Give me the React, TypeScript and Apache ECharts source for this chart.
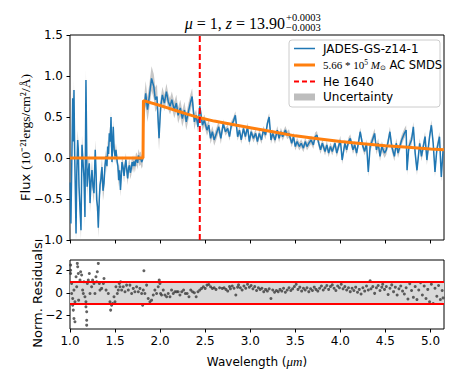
import React, { useEffect, useRef } from "react";
import * as echarts from "echarts";

// Observed spectrum: [wavelength (µm), flux (1e-21 ergs/cm^2/Å)]
const SPECTRUM: [number, number][] = [
  [1.003, -0.3], [1.01, -0.8], [1.022, 0.1], [1.03, 0.73], [1.038, 0.2], [1.044, 0.83], [1.052, 0.05],
  [1.06, -0.45], [1.067, -0.92], [1.075, -0.2], [1.085, 0.22], [1.092, 0.1], [1.1, -0.35], [1.111, -0.62],
  [1.122, -0.88], [1.133, 0.16], [1.144, -0.05], [1.155, -0.23], [1.166, -0.72], [1.177, 0.95], [1.19, -0.35],
  [1.203, -0.15], [1.214, -0.065], [1.222, -0.55], [1.233, -0.3], [1.244, -0.146], [1.255, -0.35], [1.266, -0.43],
  [1.28, 0.1], [1.29, -0.2], [1.296, -0.51], [1.306, -0.6], [1.314, -0.85], [1.325, -0.5], [1.333, -0.33],
  [1.344, -0.25], [1.355, -0.11], [1.366, -0.4], [1.377, -0.31], [1.388, -0.1], [1.4, 0.02], [1.41, -0.1],
  [1.418, 0.14], [1.428, 0.05], [1.436, 0.3], [1.447, 0.2], [1.455, 0.5], [1.466, -0.05], [1.48, 0.38],
  [1.49, 0.1], [1.5, 0.02], [1.51, 0.1], [1.524, -0.05], [1.532, -0.1], [1.54, -0.27], [1.55, -0.15],
  [1.56, -0.39], [1.57, -0.2], [1.577, -0.05], [1.59, -0.12], [1.6, -0.22], [1.61, -0.1], [1.62, -0.02],
  [1.63, -0.15], [1.64, -0.25], [1.65, -0.12], [1.66, -0.09], [1.67, -0.18], [1.68, -0.13], [1.69, -0.05],
  [1.7, -0.1], [1.71, -0.04], [1.72, -0.1], [1.73, -0.03], [1.74, -0.01], [1.75, -0.06], [1.76, 0.03],
  [1.772, -0.02], [1.784, 0.0], [1.795, -0.05], [1.806, -0.02],
  [1.815, 0.48], [1.825, 0.62], [1.84, 0.79], [1.86, 0.59], [1.88, 0.75], [1.905, 0.97], [1.93, 0.87],
  [1.947, 0.71], [1.965, 0.75], [1.988, 0.24], [2.006, 0.63], [2.025, 0.77], [2.047, 0.67], [2.07, 0.81],
  [2.09, 0.69], [2.11, 0.63], [2.13, 0.71], [2.157, 0.585], [2.18, 0.67], [2.2, 0.52], [2.224, 0.61],
  [2.246, 0.48], [2.27, 0.585], [2.29, 0.44], [2.31, 0.545], [2.335, 0.67], [2.355, 0.75], [2.38, 0.44],
  [2.4, 0.52], [2.42, 0.38], [2.44, 0.63], [2.47, 0.4], [2.49, 0.46], [2.52, 0.34], [2.54, 0.4],
  [2.56, 0.24], [2.58, 0.32], [2.6, 0.22],
  [2.625, 0.3], [2.65, 0.38], [2.674, 0.24], [2.7, 0.42], [2.725, 0.32], [2.75, 0.36], [2.77, 0.26],
  [2.79, 0.4], [2.81, 0.44], [2.835, 0.52], [2.86, 0.26], [2.88, 0.34], [2.9, 0.22], [2.925, 0.36],
  [2.946, 0.26], [2.97, 0.38], [2.99, 0.2], [3.01, 0.32], [3.035, 0.24], [3.06, 0.3], [3.08, 0.2],
  [3.1, 0.3], [3.125, 0.22], [3.145, 0.34], [3.17, 0.28], [3.19, 0.42], [3.21, 0.5], [3.23, 0.22],
  [3.25, 0.3], [3.275, 0.22], [3.3, 0.34], [3.32, 0.24], [3.34, 0.32], [3.36, 0.26], [3.39, 0.34],
  [3.41, 0.28], [3.43, 0.3], [3.46, 0.18],
  [3.48, 0.26], [3.5, 0.14], [3.52, 0.2], [3.545, 0.14], [3.565, 0.18], [3.59, 0.12], [3.61, 0.2],
  [3.63, 0.14], [3.65, 0.18], [3.675, 0.22], [3.7, 0.16], [3.72, 0.26], [3.74, 0.28], [3.76, 0.18],
  [3.78, 0.1], [3.8, 0.18], [3.83, 0.08], [3.85, 0.16], [3.87, 0.06], [3.89, 0.14], [3.91, 0.08],
  [3.94, 0.18], [3.96, 0.06], [3.98, 0.14], [4.0, 0.22], [4.02, -0.025], [4.05, 0.18], [4.07, 0.1],
  [4.09, 0.2], [4.11, 0.24], [4.14, 0.1], [4.16, 0.16], [4.18, 0.06], [4.2, 0.18], [4.22, 0.32],
  [4.25, 0.14], [4.27, 0.08], [4.29, 0.18], [4.31, -0.17],
  [4.33, 0.14], [4.35, 0.2], [4.38, 0.3], [4.4, 0.1], [4.42, 0.18], [4.44, 0.02], [4.46, 0.14],
  [4.49, 0.06], [4.51, 0.1], [4.53, 0.2], [4.55, 0.32], [4.57, 0.14], [4.6, 0.02], [4.62, 0.18],
  [4.64, 0.06], [4.66, 0.14], [4.68, 0.22], [4.71, 0.3], [4.73, 0.34], [4.74, -0.15], [4.76, 0.14],
  [4.79, 0.22], [4.81, 0.38], [4.83, 0.06], [4.85, -0.15], [4.88, 0.18], [4.9, 0.02], [4.92, 0.14],
  [4.94, 0.26], [4.96, -0.025], [4.99, 0.26], [5.01, 0.4], [5.03, 0.18], [5.05, -0.17], [5.07, 0.1],
  [5.1, 0.26], [5.12, -0.23], [5.14, 0.1],
];

// Half-width of the uncertainty band, per wavelength range start
const UNCERTAINTY: [number, number][] = [
  [1.0, 0.12], [1.4, 0.08], [1.81, 0.15], [2.0, 0.1], [2.4, 0.07], [2.7, 0.05], [4.3, 0.06],
];

// Model spectrum (5.66e5 Msun AC SMDS)
const MODEL: [number, number][] = [
  [1.0, 0], [1.81, 0], [1.815, 0.7], [2.0, 0.64], [2.1, 0.605], [2.2, 0.57], [2.3, 0.535], [2.44, 0.49],
  [2.6, 0.45], [2.7, 0.43], [2.85, 0.4], [3.0, 0.37], [3.25, 0.32], [3.5, 0.27], [3.75, 0.235],
  [4.0, 0.2], [4.25, 0.175], [4.5, 0.15], [4.75, 0.13], [5.0, 0.11], [5.15, 0.1],
];

const HE_1640 = 2.44;

// Normalised residuals: [wavelength, residual]
const RESIDUALS: [number, number][] = [
  [1.007, 2.45], [1.007, 2.0], [1.007, 1.71], [1.018, 0.83], [1.018, -0.06], [1.03, -0.5], [1.03, -1.1],
  [1.037, -1.53], [1.044, -2.27], [1.055, -2.56], [1.055, -0.8], [1.044, 0.24], [1.067, 1.42], [1.074, 0.53],
  [1.081, 2.6], [1.085, 2.3], [1.092, 1.71], [1.096, -0.65], [1.111, 1.12], [1.118, 1.86], [1.129, 1.57],
  [1.14, 0.24], [1.148, -0.06], [1.155, 0.98], [1.166, -0.35], [1.177, -0.8], [1.177, -1.24], [1.185, -1.68],
  [1.185, -2.42], [1.185, -2.86], [1.192, 0.83], [1.203, 1.12], [1.214, 1.71], [1.222, -0.06], [1.24, 0.53],
  [1.251, 1.12], [1.266, 0.83], [1.277, -0.06], [1.288, 1.42], [1.296, 0.98], [1.303, 1.86], [1.314, 2.6],
  [1.325, 0.83], [1.333, 0.24], [1.351, 0.39], [1.37, 0.83], [1.377, 1.27], [1.4, 0.24], [1.425, -0.06],
  [1.443, -0.8], [1.451, -1.53], [1.462, -1.1], [1.473, -0.94], [1.488, -0.35], [1.499, -0.8], [1.51, 0.53],
  [1.525, -0.06], [1.536, 0.24], [1.547, 0.83], [1.554, 0.53], [1.562, 0.98], [1.573, 0.24], [1.591, 0.53],
  [1.61, 0.09], [1.628, 0.68], [1.647, 0.24], [1.665, 0.68], [1.684, -0.06], [1.702, 0.39], [1.72, 0.09],
  [1.739, 0.53], [1.758, 0.09], [1.776, 0.39], [1.795, -0.06], [1.806, -1.1], [1.813, 0.24], [1.82, 1.95],
  [1.831, -0.06], [1.85, 0.68], [1.868, -0.5], [1.887, -0.8], [1.905, -0.65], [1.924, -0.2], [1.942, 0.24],
  [1.961, -0.06], [1.979, 0.53], [1.99, 1.12], [1.998, 0.83], [2.005, -0.06], [2.016, -0.2], [2.035, 0.24],
  [2.053, -0.2], [2.072, -0.35], [2.09, -0.06], [2.109, -0.35], [2.127, 0.24], [2.146, -0.06], [2.164, 0.09],
  [2.183, 0.1], [2.2, 0.09], [2.22, -0.2], [2.24, 0.09], [2.26, 0.24], [2.28, -0.06], [2.3, -0.06],
  [2.32, -0.35], [2.34, 0.24], [2.36, 0.09], [2.38, 0.0], [2.4, -0.35], [2.42, 0.09], [2.44, 0.24],
  [2.46, 0.39], [2.48, 0.53], [2.5, 0.39], [2.52, 0.68], [2.54, 0.74], [2.56, 0.53], [2.58, 0.39],
  [2.6, 0.45], [2.62, 0.3], [2.66, 0.45], [2.69, 0.39],
  [2.71, 0.45], [2.73, 0.3], [2.75, 0.15], [2.77, 0.55], [2.78, 0.35], [2.8, 0.6], [2.82, 0.4],
  [2.84, -0.2], [2.86, 0.5], [2.87, 0.7], [2.89, 0.45], [2.91, 0.25], [2.93, 0.6], [2.95, 0.4],
  [2.97, 0.75], [2.99, 0.5], [3.01, 0.65], [3.03, 0.35], [3.05, 0.55], [3.07, 0.2], [3.09, 0.45],
  [3.11, 0.3], [3.13, 0.4], [3.15, 0.1], [3.17, 0.3], [3.19, 0.15], [3.21, 0.35], [3.23, -0.5],
  [3.25, 0.25], [3.27, 0.05], [3.29, 0.2], [3.31, 0.1], [3.33, 0.3], [3.35, 0.15], [3.37, 0.4],
  [3.39, 0.05], [3.41, 0.25], [3.43, 0.45], [3.45, 0.2], [3.47, 0.35], [3.49, 0.55], [3.51, 0.75],
  [3.53, 0.3], [3.55, 0.5], [3.57, 0.15], [3.59, 0.4], [3.61, 0.25], [3.63, 0.45], [3.65, 0.1],
  [3.67, 0.35], [3.69, 0.2], [3.71, 0.5], [3.73, 0.3], [3.75, 0.15], [3.77, 0.4], [3.79, 0.6],
  [3.81, 0.25], [3.83, 0.45], [3.85, 0.65], [3.87, 0.3], [3.89, 0.55], [3.91, 0.7], [3.93, 0.4],
  [3.95, 0.2], [3.97, 0.6], [3.99, 0.45], [4.01, 0.75], [4.03, 0.35], [4.05, 0.55], [4.07, 0.25],
  [4.09, 0.45], [4.11, 0.1], [4.13, 0.4], [4.15, 0.2], [4.17, 0.5], [4.19, 0.05], [4.21, 0.3],
  [4.23, -0.1], [4.25, 0.45], [4.27, 0.15], [4.29, 0.6], [4.31, 0.25], [4.33, 1.07], [4.34, 0.35],
  [4.36, 0.55], [4.38, -0.05], [4.4, 0.45], [4.42, 0.65], [4.44, 0.2], [4.46, 0.5], [4.47, 0.75],
  [4.49, 0.3], [4.51, 0.55], [4.53, -0.15], [4.55, 0.4], [4.57, 0.7], [4.59, 0.1], [4.61, 0.5],
  [4.63, -0.2], [4.65, 0.35], [4.67, 0.6], [4.69, 0.15], [4.71, -0.1], [4.73, 0.45], [4.75, -0.55],
  [4.77, 0.8], [4.79, 0.2], [4.81, -0.4], [4.83, 0.55], [4.85, -0.6], [4.87, 0.25], [4.89, 0.9],
  [4.91, -0.2], [4.93, 0.6], [4.95, -0.5], [4.97, 0.3], [4.99, -0.8], [5.01, 0.75], [5.03, -0.94],
  [5.05, 0.4], [5.07, -0.3], [5.09, 0.65], [5.11, -0.6], [5.13, 0.2], [5.14, -0.45],
];

const X_TICKS = [1.0, 1.5, 2.0, 2.5, 3.0, 3.5, 4.0, 4.5, 5.0];
const RES_TICKS = [-2, 0, 2];

const SANS = "DejaVu Sans";
const SERIF = "Liberation Serif";

function errAt(x: number): number {
  let e = UNCERTAINTY[0][1];
  for (const [start, v] of UNCERTAINTY) if (x >= start) e = v;
  return e;
}

function fmtMinus(v: number, digits: number): string {
  const s = Math.abs(v).toFixed(digits);
  return v < 0 ? "\u2212" + s : s;
}

export default function App() {
  const ref = useRef<HTMLDivElement>(null);
  useEffect(() => {
    const chart = echarts.init(ref.current!, null, { renderer: "svg" });
    const tickStyle = { show: true, length: 3.5, inside: false, lineStyle: { color: "#000", width: 1 } };
    const labelStyle = { color: "#000", fontFamily: SANS, fontSize: 12 };
    const option: any = {
      animation: false,
      grid: [
        { left: 70, top: 35, width: 374, height: 205, show: true, borderColor: "#000", borderWidth: 1, backgroundColor: "transparent" },
        { left: 70, top: 260, width: 374, height: 69, show: true, borderColor: "#000", borderWidth: 1, backgroundColor: "transparent" },
      ],
      xAxis: [
        {
          type: "value", gridIndex: 0, min: 1, max: 5.15, position: "bottom",
          axisLine: { show: false, onZero: false },
          axisTick: { ...tickStyle, customValues: X_TICKS },
          axisLabel: { show: false, customValues: X_TICKS },
          splitLine: { show: false },
        },
        {
          type: "value", gridIndex: 1, min: 1, max: 5.15, position: "bottom",
          axisLine: { show: false, onZero: false },
          axisTick: { ...tickStyle, customValues: X_TICKS },
          axisLabel: { ...labelStyle, margin: 6, customValues: X_TICKS, formatter: (v: number) => v.toFixed(1) },
          splitLine: { show: false },
          name: "{a|Wavelength (}{i|μm}{a|)}",
          nameLocation: "middle",
          nameGap: 26,
          nameTextStyle: {
            rich: {
              a: { fontFamily: SANS, fontSize: 12, color: "#000" },
              i: { fontFamily: SERIF, fontStyle: "italic", fontSize: 13, color: "#000" },
            },
          },
        },
      ],
      yAxis: [
        {
          type: "value", gridIndex: 0, min: -1, max: 1.5, interval: 0.5,
          axisLine: { show: false, onZero: false },
          axisTick: tickStyle,
          axisLabel: { ...labelStyle, margin: 7, formatter: (v: number) => fmtMinus(v, 1) },
          splitLine: { show: false },
        },
        {
          type: "value", gridIndex: 1, min: -3.2, max: 2.9,
          axisLine: { show: false, onZero: false },
          axisTick: { ...tickStyle, customValues: RES_TICKS },
          axisLabel: { ...labelStyle, margin: 7, customValues: RES_TICKS, formatter: (v: number) => fmtMinus(v, 0) },
          splitLine: { show: false },
        },
      ],
      series: [
        {
          type: "custom",
          xAxisIndex: 0, yAxisIndex: 0,
          clip: true,
          silent: true,
          data: [[1, 0]],
          renderItem: (_params: any, api: any) => {
            const upper = SPECTRUM.map(([x, y]) => api.coord([x, y + errAt(x)]));
            const lower = SPECTRUM.map(([x, y]) => api.coord([x, y - errAt(x)])).reverse();
            return {
              type: "polygon",
              shape: { points: upper.concat(lower) },
              style: { fill: "#bdbdbd", opacity: 0.85 },
            };
          },
        },
        {
          type: "line",
          xAxisIndex: 0, yAxisIndex: 0,
          data: SPECTRUM,
          symbol: "none",
          clip: true,
          lineStyle: { color: "#1f77b4", width: 1.5 },
        },
        {
          type: "line",
          xAxisIndex: 0, yAxisIndex: 0,
          data: MODEL,
          symbol: "none",
          clip: true,
          lineStyle: { color: "#ff7f0e", width: 3 },
        },
        {
          type: "line",
          xAxisIndex: 0, yAxisIndex: 0,
          data: [[HE_1640, -1], [HE_1640, 1.5]],
          symbol: "none",
          lineStyle: { color: "#ff0000", width: 2, type: [6, 3] },
        },
        {
          type: "scatter",
          xAxisIndex: 1, yAxisIndex: 1,
          data: RESIDUALS,
          symbolSize: 3,
          itemStyle: { color: "#3a3a3a" },
          markArea: {
            silent: true,
            itemStyle: { color: "#d9d9d9" },
            data: [[{ yAxis: -1 }, { yAxis: 1 }]],
          },
          markLine: {
            silent: true,
            symbol: ["none", "none"],
            label: { show: false },
            lineStyle: { color: "#ff0000", width: 1.8, type: "solid" },
            data: [{ yAxis: 1 }, { yAxis: -1 }],
          },
        },
      ],
      graphic: [
        {
          type: "text", x: 25, y: 137.5, rotation: Math.PI / 2,
          style: {
            text: "{a|Flux }{b|(10⁻²¹ergs/cm²/Å)}",
            align: "center",
            verticalAlign: "middle",
            rich: {
              a: { fontFamily: SANS, fontSize: 13, fill: "#000" },
              b: { fontFamily: SERIF, fontSize: 13.5, fill: "#000" },
            },
          },
        },
        {
          type: "text", x: 37, y: 295, rotation: Math.PI / 2,
          style: { text: "Norm. Residuals", fontFamily: SANS, fontSize: 13, fill: "#000", align: "center", verticalAlign: "middle" },
        },
        {
          type: "text", x: 285, y: 23,
          style: {
            text: "{i|μ}{n| = 1, }{i|z}{n| = 13.90}",
            align: "right",
            verticalAlign: "middle",
            rich: {
              i: { fontFamily: SERIF, fontStyle: "italic", fontSize: 16, fill: "#000" },
              n: { fontFamily: SERIF, fontSize: 16, fill: "#000" },
            },
          },
        },
        { type: "text", x: 286, y: 17.5, style: { text: "+0.0003", fontFamily: SERIF, fontSize: 10.5, fill: "#000", verticalAlign: "middle" } },
        { type: "text", x: 286, y: 27.5, style: { text: "\u22120.0003", fontFamily: SERIF, fontSize: 10.5, fill: "#000", verticalAlign: "middle" } },
        {
          type: "rect", shape: { x: 289, y: 40, width: 151, height: 67, r: 3 },
          style: { fill: "rgba(255,255,255,0.8)", stroke: "#cccccc", lineWidth: 1 },
        },
        { type: "line", shape: { x1: 294, y1: 48.5, x2: 315, y2: 48.5 }, style: { stroke: "#1f77b4", lineWidth: 1.5 } },
        { type: "text", x: 323, y: 48.5, style: { text: "JADES-GS-z14-1", fontFamily: SANS, fontSize: 12, fill: "#000", verticalAlign: "middle" } },
        { type: "line", shape: { x1: 294, y1: 65, x2: 315, y2: 65 }, style: { stroke: "#ff7f0e", lineWidth: 3 } },
        {
          type: "text", x: 323, y: 65,
          style: {
            text: "{m|5.66 * 10}{p|5}{m| }{i|M}{s|⊙}{t| AC SMDS}",
            verticalAlign: "middle",
            rich: {
              m: { fontFamily: SERIF, fontSize: 11, fill: "#000" },
              p: { fontFamily: SERIF, fontSize: 7.5, fill: "#000", verticalAlign: "top", padding: [0, 0, 6, 0] },
              i: { fontFamily: SERIF, fontStyle: "italic", fontSize: 11, fill: "#000" },
              s: { fontFamily: "DejaVu Sans", fontSize: 7, fill: "#000", padding: [5, 0, 0, 0] },
              t: { fontFamily: SANS, fontSize: 11.5, fill: "#000" },
            },
          },
        },
        { type: "line", shape: { x1: 294, y1: 81.5, x2: 315, y2: 81.5 }, style: { stroke: "#ff0000", lineWidth: 2, lineDash: [5, 3] } },
        { type: "text", x: 323, y: 81.5, style: { text: "He 1640", fontFamily: SANS, fontSize: 12, fill: "#000", verticalAlign: "middle" } },
        { type: "rect", shape: { x: 294, y: 93.5, width: 21, height: 7 }, style: { fill: "#bdbdbd" } },
        { type: "text", x: 323, y: 97, style: { text: "Uncertainty", fontFamily: SANS, fontSize: 12, fill: "#000", verticalAlign: "middle" } },
      ],
    };
    chart.setOption(option);
    return () => chart.dispose();
  }, []);
  return <div ref={ref} style={{ position: "fixed", left: 0, top: 0, width: 458, height: 382, background: "#fff" }} />;
}
